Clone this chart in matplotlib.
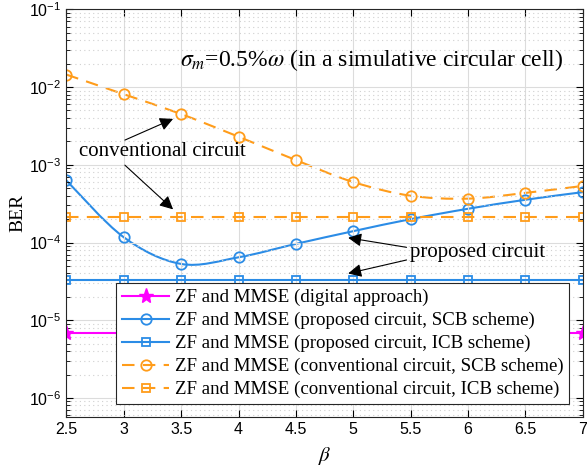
import numpy as np
import matplotlib.pyplot as plt
from matplotlib.path import Path
from matplotlib.patches import PathPatch

plt.rcParams['mathtext.fontset'] = 'stix'

beta = [2.5, 3, 3.5, 4, 4.5, 5, 5.5, 6, 6.5, 7]

ber_digital = [6.8e-6] * 10
ber_prop_scb = [6.3e-4, 1.17e-4, 5.3e-5, 6.45e-5, 9.6e-5, 1.4e-4, 2.0e-4, 2.72e-4, 3.55e-4, 4.45e-4]
ber_prop_icb = [3.25e-5] * 10
ber_conv_scb = [1.45e-2, 8.1e-3, 4.5e-3, 2.3e-3, 1.15e-3, 6.0e-4, 4.0e-4, 3.67e-4, 4.35e-4, 5.35e-4]
ber_conv_icb = [2.12e-4] * 10

labels = ['ZF and MMSE (digital approach)',
          'ZF and MMSE (proposed circuit, SCB scheme)',
          'ZF and MMSE (proposed circuit, ICB scheme)',
          'ZF and MMSE (conventional circuit, SCB scheme)',
          'ZF and MMSE (conventional circuit, ICB scheme)']

blue = '#2b8ce6'
orange = '#ff9c1a'
magenta = '#ff00ff'
serif = 'Liberation Serif'


def smooth_path(ax, x, y, **kw):
    # Catmull-Rom style cubic Bezier through the points, in log10(y) space
    x = np.asarray(x, float)
    ly = np.log10(y)
    verts = [(x[0], ly[0])]
    codes = [Path.MOVETO]
    n = len(x)
    for i in range(n - 1):
        x0, y0 = (x[i - 1], ly[i - 1]) if i > 0 else (x[i], ly[i])
        x3, y3 = (x[i + 2], ly[i + 2]) if i + 2 < n else (x[i + 1], ly[i + 1])
        c1 = (x[i] + (x[i + 1] - x0) / 6, ly[i] + (ly[i + 1] - y0) / 6)
        c2 = (x[i + 1] - (x3 - x[i]) / 6, ly[i + 1] - (y3 - ly[i]) / 6)
        verts += [c1, c2, (x[i + 1], ly[i + 1])]
        codes += [Path.CURVE4] * 3
    verts = [(vx, 10 ** vy) for vx, vy in verts]
    ax.add_patch(PathPatch(Path(verts, codes), fill=False, **kw))


fig, ax = plt.subplots(figsize=(5.87, 4.70), dpi=100)
fig.subplots_adjust(left=0.113, right=0.993, top=0.98, bottom=0.113)

ax.plot(beta, ber_digital, '-*', color=magenta, lw=1.5, ms=11, mew=1.0, label=labels[0])
smooth_path(ax, beta, ber_prop_scb, color=blue, lw=1.5)
ax.plot(beta, ber_prop_scb, 'o', color=blue, ms=7.5, mfc='none', mew=1.3)
ax.plot([], [], '-o', color=blue, lw=1.5, ms=7.5, mfc='none', mew=1.3, label=labels[1])
ax.plot(beta, ber_prop_icb, '-s', color=blue, lw=1.5, ms=6, mfc='none', mew=1.3, label=labels[2])
smooth_path(ax, beta, ber_conv_scb, color=orange, lw=1.5, linestyle=(0, (6, 4)))
ax.plot(beta, ber_conv_scb, 'o', color=orange, ms=7.5, mfc='none', mew=1.3)
ax.plot([], [], '--o', color=orange, lw=1.5, ms=7.5, mfc='none', mew=1.3, dashes=(6, 4), label=labels[3])
ax.plot(beta, ber_conv_icb, '--s', color=orange, lw=1.5, ms=6, mfc='none', mew=1.3, dashes=(6, 4), label=labels[4])

ax.set_yscale('log')
ax.set_xlim(2.5, 7)
ax.set_ylim(5.7e-7, 1e-1)
ax.set_xticks(beta)
ax.set_xticklabels(['2.5', '3', '3.5', '4', '4.5', '5', '5.5', '6', '6.5', '7'])
ax.grid(True, which='major', color='#dcdcdc', lw=0.8)
ax.grid(True, which='minor', axis='y', color='#d0d0d0', lw=0.8, linestyle=(0, (1, 3)))
ax.tick_params(which='both', direction='in', top=True, right=True, labelsize=11.5)
ax.tick_params(which='major', length=5)
ax.tick_params(which='minor', length=3)
for lab in ax.get_xticklabels() + ax.get_yticklabels():
    lab.set_family('Liberation Sans')
for s in ax.spines.values():
    s.set_color('#262626')

ax.set_ylabel('BER', family=serif, fontsize=14, labelpad=2)
ax.set_xlabel(r'$\beta$', fontsize=15, labelpad=6)

ax.text(3.49, 2.2e-2, r'$\sigma_m$=0.5%$\omega$ (in a simulative circular cell)',
        family=serif, fontsize=17, va='center')

arrow = dict(arrowstyle='-|>', color='k', lw=0.8, mutation_scale=20, shrinkA=0, shrinkB=0)
ax.text(3.335, 1.47e-3, 'conventional circuit', family=serif, fontsize=15, ha='center', va='center')
ax.annotate('', xy=(3.43, 3.9e-3), xytext=(3.01, 2.08e-3), arrowprops=arrow)
ax.annotate('', xy=(3.43, 2.67e-4), xytext=(3.01, 9.9e-4), arrowprops=arrow)
ax.text(5.49, 7.46e-5, 'proposed circuit', family=serif, fontsize=15, ha='left', va='center')
ax.annotate('', xy=(4.955, 1.15e-4), xytext=(5.464, 8.67e-5), arrowprops=arrow)
ax.annotate('', xy=(4.955, 4.0e-5), xytext=(5.464, 5.96e-5), arrowprops=arrow)

leg = ax.legend(loc='lower left', bbox_to_anchor=(0.097, 0.032), prop={'family': serif, 'size': 13.6},
                fancybox=False, edgecolor='#262626', framealpha=1, borderpad=0.3,
                labelspacing=0.3, handlelength=2.5, handletextpad=0.3, borderaxespad=0)
leg.get_frame().set_linewidth(0.8)

fig.savefig('out.png', dpi=100)
